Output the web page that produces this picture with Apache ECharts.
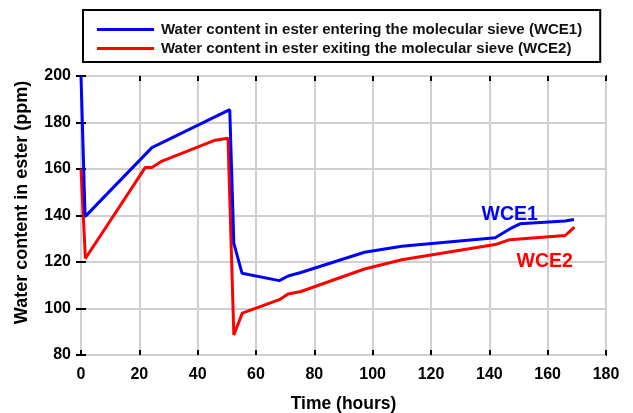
<!DOCTYPE html>
<html>
<head>
<meta charset="utf-8">
<script src="https://cdn.jsdelivr.net/npm/echarts@6/dist/echarts.min.js"></script>
<style>
  html, body { margin: 0; padding: 0; background: #fff; }
  #chart { width: 633px; height: 413px; }
</style>
</head>
<body>
<div id="chart"></div>
<script>
// Data
const hoursIn = [0, 1.4, 24.3, 51, 52.4, 55.2, 68, 71, 75.4, 97.2, 110, 142, 147.7, 150.5, 166, 169];
const wceIn = [200, 139.5, 169.2, 185.5, 128, 115.2, 112, 114, 115.5, 124.2, 126.8, 130.4, 134.7, 136.4, 137.6, 138.3];

const hoursOut = [0, 1.5, 22, 24.3, 27.8, 46, 50.4, 52.4, 55.3, 68, 71, 75.4, 97.2, 110, 142, 147, 166, 169.2];
const wceOut = [160, 121.5, 160.6, 160.6, 163.4, 172.4, 173.2, 88.6, 98, 103.8, 106.2, 107.3, 117, 121, 127.5, 129.6, 131.4, 135];

const seriesNames = [
    'Water content in ester entering the molecular sieve (WCE1)',
    'Water content in ester exiting the molecular sieve (WCE2)'
];
const tagIn = { label: 'WCE1', coord: [147, 140.5] };
const tagOut = { label: 'WCE2', coord: [159, 120.3] };

const font = 'Liberation Sans, Arial, sans-serif';
const pair = (xs, ys) => xs.map((x, i) => [x, ys[i]]);

const chart = echarts.init(document.getElementById('chart'));

const tag = (t, color) => ({
    symbol: 'rect',
    symbolSize: 2,
    silent: true,
    itemStyle: { color: 'rgba(0,0,0,0)' },
    label: {
        show: true,
        position: 'inside',
        formatter: t.label,
        color: color,
        fontFamily: font,
        fontWeight: 'bold',
        fontSize: 19.5
    },
    data: [{ coord: t.coord }]
});

const hiddenAxis = {
    axisLine: { show: false },
    axisLabel: { show: false },
    splitLine: { show: false },
    axisTick: { inside: true, length: 5, lineStyle: { color: '#000', width: 2 } }
};

chart.setOption({
    animation: false,
    color: ['#0000ff', '#ff0000'],
    grid: {
        left: 81, right: 27, top: 76, bottom: 58,
        outerBoundsMode: 'none',
        containLabel: false,
        show: true,
        borderColor: '#000',
        borderWidth: 2
    },
    legend: {
        orient: 'vertical',
        left: 83,
        top: 10,
        icon: 'rect',
        itemWidth: 57,
        itemHeight: 3,
        itemGap: 4,
        padding: [12, 18, 6, 14],
        borderColor: '#000',
        borderWidth: 2,
        textStyle: { fontFamily: font, fontWeight: 'bold', fontSize: 15, color: '#111', padding: [0, 0, 0, 2] },
        data: seriesNames
    },
    xAxis: [{
        type: 'value',
        min: 0, max: 180, interval: 20,
        name: 'Time (hours)',
        nameLocation: 'middle',
        nameGap: 40,
        nameTextStyle: { fontFamily: font, fontWeight: 'bold', fontSize: 17.5, color: '#000' },
        axisLine: { show: false },
        axisTick: { inside: true, length: 5, lineStyle: { color: '#000', width: 2 } },
        axisLabel: { fontFamily: font, fontWeight: 'bold', fontSize: 16, color: '#000', margin: 12 },
        splitLine: { show: true, lineStyle: { color: '#d0d0d0', width: 2 } }
    }, Object.assign({
        type: 'value', position: 'top', min: 0, max: 180, interval: 20
    }, hiddenAxis)],
    yAxis: [{
        type: 'value',
        min: 80, max: 200, interval: 20,
        name: 'Water content in ester (ppm)',
        nameLocation: 'middle',
        nameGap: 50,
        nameTextStyle: { fontFamily: font, fontWeight: 'bold', fontSize: 18, color: '#000', padding: [0, 0, 0, 26] },
        axisLine: { show: false },
        axisTick: { inside: true, length: 5, lineStyle: { color: '#000', width: 2 } },
        axisLabel: { fontFamily: font, fontWeight: 'bold', fontSize: 16, color: '#000', margin: 10 },
        splitLine: { show: true, lineStyle: { color: '#d0d0d0', width: 2 } }
    }, Object.assign({
        type: 'value', position: 'right', min: 80, max: 200, interval: 20
    }, hiddenAxis)],
    series: [{
        name: seriesNames[0],
        type: 'line',
        symbol: 'none',
        lineStyle: { width: 3, color: '#0000ff' },
        data: pair(hoursIn, wceIn),
        markPoint: tag(tagIn, '#0000ff'),
        z: 3
    }, {
        name: seriesNames[1],
        type: 'line',
        symbol: 'none',
        lineStyle: { width: 3, color: '#ff0000' },
        data: pair(hoursOut, wceOut),
        markPoint: tag(tagOut, '#ff0000'),
        z: 2
    }]
});

window.addEventListener('resize', function() {
    chart.resize();
});
</script>
</body>
</html>
